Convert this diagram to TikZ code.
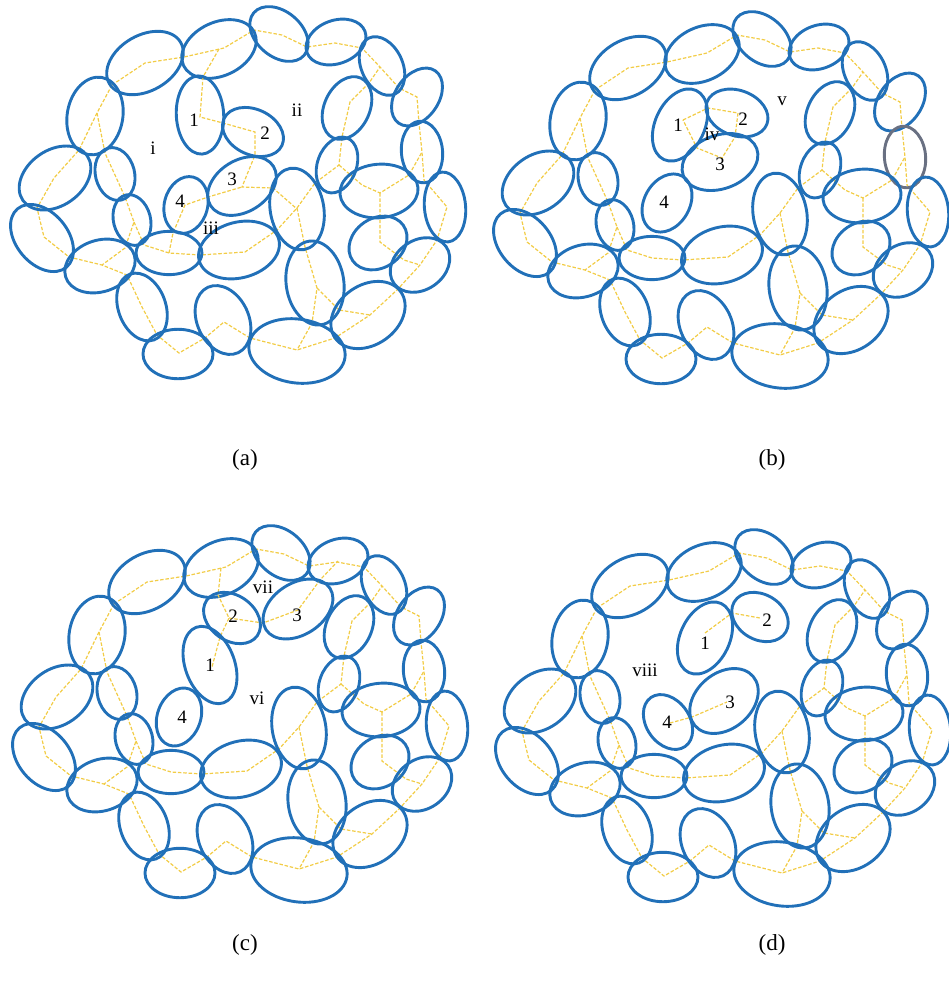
\documentclass[tikz,border=0pt]{standalone}
\usepackage{fontspec}
\setmainfont{Liberation Serif}
\definecolor{cellblue}{RGB}{33,112,184}
\definecolor{dashy}{RGB}{242,204,70}
\definecolor{cellgray}{RGB}{105,112,130}
\tikzset{
 cellline/.style={draw=cellblue, line width=2.9pt},
 grayline/.style={draw=cellgray, line width=2.9pt},
 treeline/.style={draw=dashy, line width=1.2pt, dash pattern=on 3.5pt off 1.8pt},
 lbl/.style={font=\fontsize{19}{19}\selectfont, inner sep=0pt},
 captext/.style={font=\fontsize{23}{23}\selectfont, inner sep=0pt}
}
% \cel[style]{cx}{cy}{rx}{ry}{rotation}
\newcommand{\cel}[6][cellline]{\draw[#1,shift={(#2,#3)},rotate=#6] (0,0) ellipse [x radius=1.03*#4pt, y radius=1.03*#5pt];}
\newcommand{\ringlines}{%
 \draw[treeline] (595,90) -- (628,68) -- (667,62) -- (707,53) -- (737,35) -- (765,40) -- (790,52) -- (818,48) -- (845,53) -- (863,72) -- (882,93) -- (900,102) -- (902,128) -- (905,157) -- (907,185) -- (930,212) -- (920,245) -- (903,270) -- (880,295) -- (853,320) -- (818,343) -- (780,355) -- (733,343) -- (707,327) -- (688,343) -- (662,358) -- (640,340) -- (625,312) -- (610,280) -- (585,270) -- (552,262) -- (527,242) -- (520,213) -- (537,183) -- (562,155) -- (580,118) -- cycle;
 \draw[treeline] (580,118) -- (588,158) -- (598,180) -- (608,202) -- (617,227) -- (608,253) -- (585,270);
 \draw[treeline] (617,227) -- (627,250) -- (652,258) -- (683,260) -- (728,257) -- (760,235) -- (780,213) -- (798,188) -- (822,170) -- (825,142) -- (833,107) -- (852,88) -- (863,72);
 \draw[treeline] (822,170) -- (845,190) -- (863,198) -- (892,180) -- (905,157);
 \draw[treeline] (863,198) -- (863,247) -- (887,265) -- (903,270);
 \draw[treeline] (780,213) -- (788,252) -- (800,293) -- (795,328) -- (780,355);
 \draw[treeline] (800,293) -- (822,315) -- (853,320);
}
\newcommand{\ringcells}[1]{%
 \cel{628}{68}{40}{27}{30}
 \cel{702}{54}{38}{26}{25}
 \cel{762}{39}{32}{22}{-40}
 \cel{819}{47}{30}{21}{20}
 \cel{865}{71}{20}{30}{25}
 \cel{900}{102}{21}{31}{-35}
 \cel[#1]{905}{157}{20}{30}{5}
 \cel{928}{212}{20}{34}{5}
 \cel{903}{270}{31}{24}{35}
 \cel{851}{320}{39}{29}{35}
 \cel{780}{356}{47}{31}{-8}
 \cel{706}{325}{25}{35}{25}
 \cel{661}{359}{34}{24}{0}
 \cel{625}{312}{23}{34}{20}
 \cel{583}{271}{35}{25}{18}
 \cel{525}{243}{25}{37}{40}
 \cel{538}{183}{38}{27}{35}
 \cel{578}{121}{27}{38}{-10}
 \cel{598}{179}{19}{26}{14}
 \cel{615}{225}{18}{25}{14}
 \cel{652}{258}{32}{21}{0}
 \cel{722}{255}{40}{27}{15}
 \cel{780}{214}{26}{40}{10}
 \cel{798}{288}{28}{41}{8}
 \cel{820}{170}{19}{28}{-20}
 \cel{830}{113}{22}{32}{-25}
 \cel{862}{196}{38}{26}{5}
 \cel{861}{248}{30}{24}{35}
}
\begin{document}
\begin{tikzpicture}[x=1pt,y=-1pt]
\useasboundingbox (0,0) rectangle (949,989);
% ---------- panel (a)
\begin{scope}[shift={(-483,-5)}]
 \ringlines
 \ringcells{cellline}
\end{scope}
\draw[treeline] (219,49) -- (203,77) -- (200,117) -- (223,123) -- (255,132) -- (255,155) -- (242,187) -- (273,188) -- (297,209);
\draw[treeline] (169,253) -- (173,233) -- (185,205) -- (208,197) -- (242,187);
\cel{200}{115}{23}{38}{3}
\cel{253}{132}{31}{22}{-25}
\cel{242}{186}{36}{25}{32}
\cel{186}{205}{21}{28}{-15}
\node[lbl] (a1) at (194,120) {1};
\node[lbl] (a2) at (265,133) {2};
\node[lbl] (a3) at (232,179) {3};
\node[lbl] (a4) at (180,201) {4};
\node[lbl] (ai) at (153,148) {i};
\node[lbl] (aii) at (297,110) {ii};
\node[lbl] (aiii) at (211,228) {iii};
\node[captext] (capa) at (245,460) {(a)};
% ---------- panel (b)
\ringlines
\ringcells{grayline}
\draw[treeline] (683,120) -- (708,108) -- (738,113) -- (735,137) -- (722,158) -- (697,148) -- cycle;
\cel{680}{125}{24}{37}{-25}
\cel{737}{113}{31}{22}{-20}
\cel{720}{162}{38}{26}{20}
\cel{667}{203}{22}{30}{-30}
\node[lbl] (b1) at (678,125) {1};
\node[lbl] (b2) at (743,119) {2};
\node[lbl] (biv) at (712,134) {iv};
\node[lbl] (b3) at (720,164) {3};
\node[lbl] (b4) at (664,202) {4};
\node[lbl] (bv) at (782,101) {v};
\node[captext] (capb) at (772,460) {(b)};
% ---------- panel (c)
\begin{scope}[shift={(-481,514)}]
 \ringlines
 \ringcells{cellline}
\end{scope}
\draw[treeline] (221,568) -- (218,595) -- (229,618) -- (220,637) -- (212,667);
\draw[treeline] (229,618) -- (263,623) -- (298,610) -- (320,580) -- (338,561);
\cel{210}{665}{24}{39}{20}
\cel{232}{618}{30}{22}{-35}
\cel{298}{609}{37}{25}{33}
\cel{179}{717}{21}{29}{-20}
\node[lbl] (c1) at (210,665) {1};
\node[lbl] (c2) at (233,616) {2};
\node[lbl] (c3) at (297,615) {3};
\node[lbl] (c4) at (182,717) {4};
\node[lbl] (cvii) at (263,587) {vii};
\node[lbl] (cvi) at (257,698) {vi};
\node[captext] (capc) at (245,945) {(c)};
% ---------- panel (d)
\begin{scope}[shift={(2,518)}]
 \ringlines
 \ringcells{cellline}
\end{scope}
\draw[treeline] (705,633) -- (732,613) -- (760,618);
\draw[treeline] (670,723) -- (692,717) -- (727,702);
\cel{705}{638}{24}{37}{-25}
\cel{760}{617}{29}{22}{-30}
\cel{724}{701}{37}{27}{40}
\cel{668}{722}{21}{29}{35}
\node[lbl] (d1) at (705,643) {1};
\node[lbl] (d2) at (767,620) {2};
\node[lbl] (d3) at (730,702) {3};
\node[lbl] (d4) at (667,722) {4};
\node[lbl] (dviii) at (645,670) {viii};
\node[captext] (capd) at (772,945) {(d)};
\end{tikzpicture}
\end{document}
